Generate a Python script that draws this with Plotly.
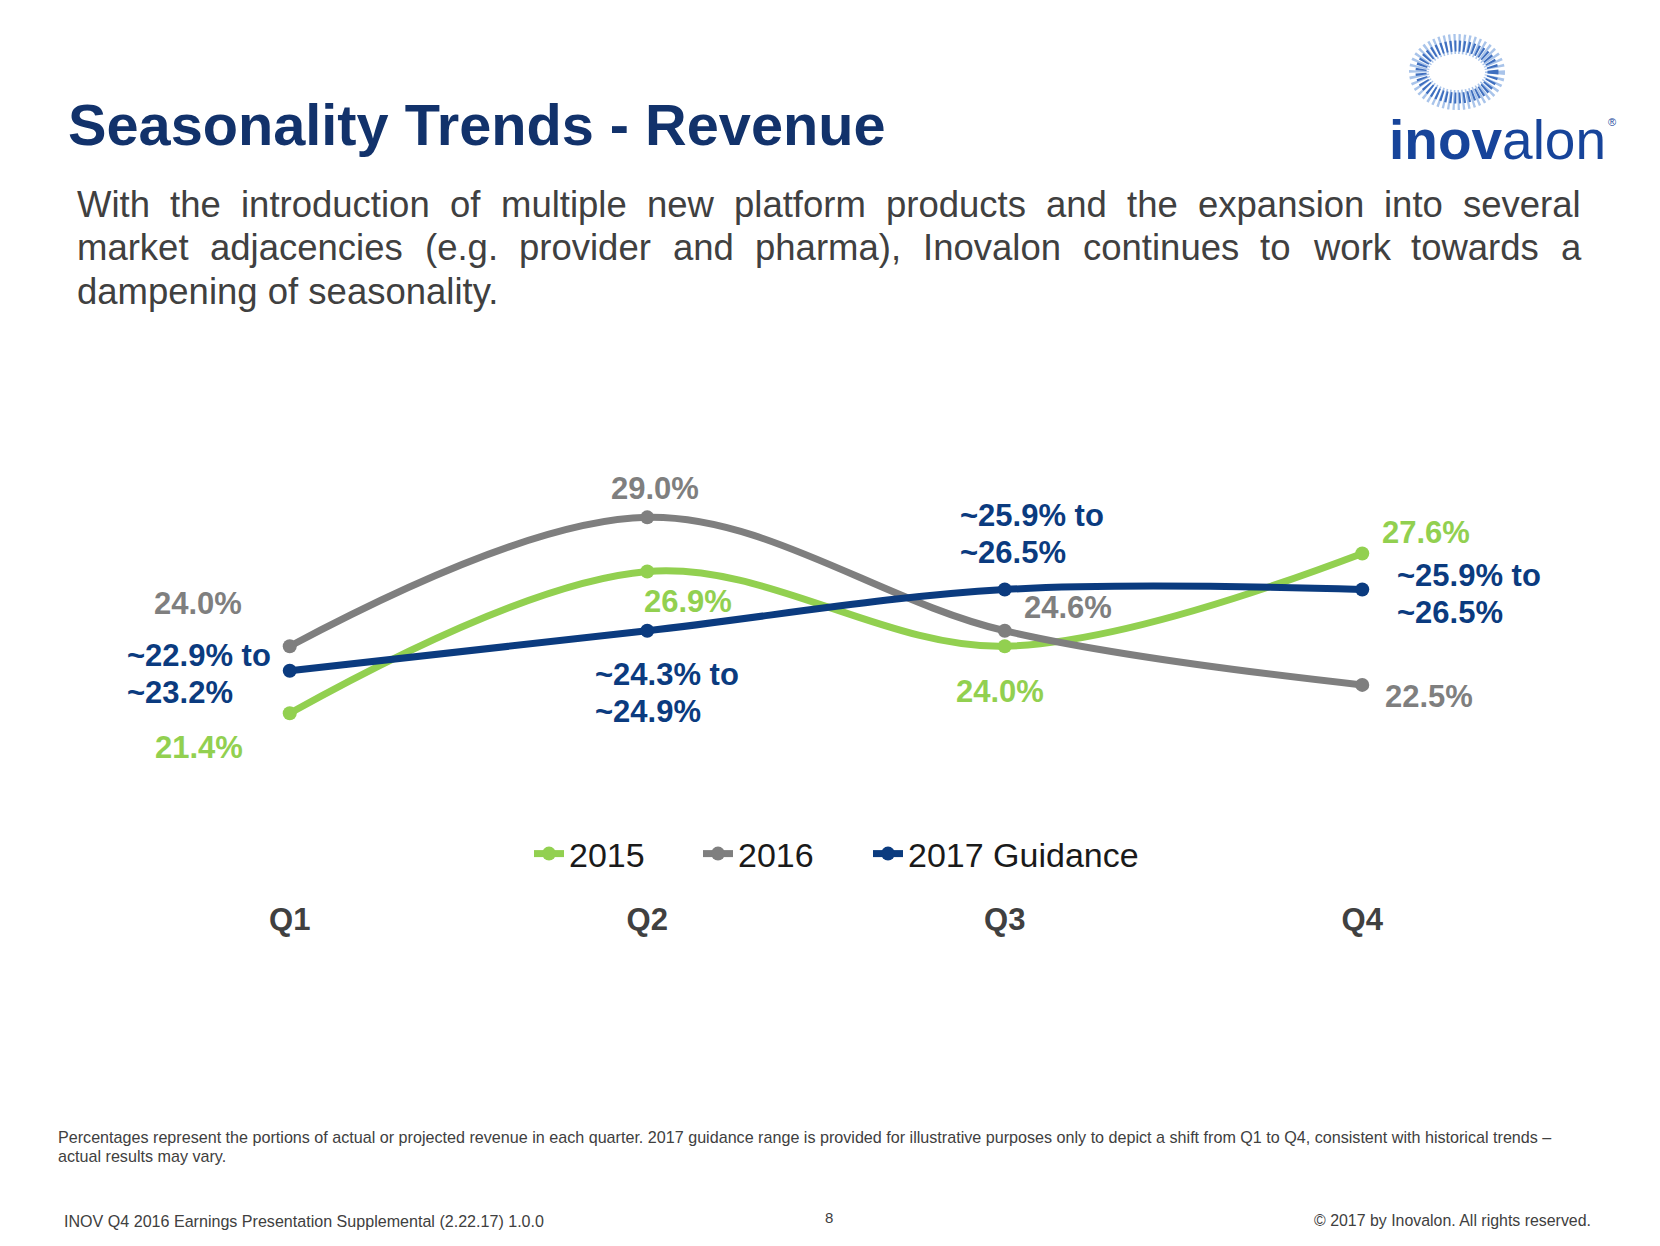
import plotly.graph_objects as go

W, H = 1660, 1246

# ---------------- data ----------------
quarters = ["Q1", "Q2", "Q3", "Q4"]
rev_2015 = [21.4, 26.9, 24.0, 27.6]
rev_2016 = [24.0, 29.0, 24.6, 22.5]
guid_2017_low = [22.9, 24.3, 25.9, 25.9]
guid_2017_high = [23.2, 24.9, 26.5, 26.5]
guid_2017_mid = [(a + b) / 2 for a, b in zip(guid_2017_low, guid_2017_high)]

series_names = ["2015", "2016", "2017 Guidance"]

title_text = "Seasonality Trends - Revenue"
subtitle_lines = [
    "With the introduction of multiple new platform products and the expansion into several",
    "market adjacencies (e.g. provider and pharma), Inovalon continues to work towards a",
    "dampening of seasonality.",
]
footnote_lines = [
    "Percentages represent the portions of actual or projected revenue in each quarter. 2017 guidance range is provided for illustrative purposes only to depict a shift from Q1 to Q4, consistent with historical trends \u2013",
    "actual results may vary.",
]
footer_left = "INOV Q4 2016 Earnings Presentation Supplemental (2.22.17) 1.0.0"
footer_mid = "8"
footer_right = "\u00a9 2017 by Inovalon. All rights reserved."

# ---------------- styles ----------------
GREEN = "#92D050"
GRAY = "#7F7F7F"
NAVY = "#0B3B7F"
TITLE_NAVY = "#12326B"
TEXT_GRAY = "#404040"
FONT = "Liberation Sans, Arial, sans-serif"

# Arial / Liberation Sans advance widths (1/1000 em)
CW = {c: 556 for c in "0123456789"}
CW.update(dict(zip("abcdefghijklmnopqrstuvwxyz",
                   [556, 556, 500, 556, 556, 278, 556, 556, 222, 222, 500, 222, 833,
                    556, 556, 556, 556, 333, 500, 278, 556, 500, 722, 500, 500, 500])))
CW.update(dict(zip("ABCDEFGHIJKLMNOPQRSTUVWXYZ",
                   [667, 667, 722, 722, 667, 611, 778, 722, 278, 500, 667, 556, 833,
                    722, 778, 667, 778, 722, 667, 611, 722, 667, 944, 667, 667, 611])))
CW.update({" ": 278, ".": 278, ",": 278, "(": 333, ")": 333, "-": 333,
           "\u2013": 556, "\u00a9": 737, "~": 584, "%": 889})


def text_w(s, size):
    return sum(CW.get(c, 556) for c in s) / 1000.0 * size


def px(x):
    return x / W


def py(y):
    return 1 - y / H


# plot-area placement (pixels)
PL, PR, PT, PB = 111, 1541, 440, 898
Y_RANGE = [14.234, 32.0]

fig = go.Figure()

traces = [
    (rev_2015, GREEN, "legend", series_names[0]),
    (rev_2016, GRAY, "legend2", series_names[1]),
    (guid_2017_mid, NAVY, "legend3", series_names[2]),
]
for vals, col, leg, name in traces:
    fig.add_trace(go.Scatter(
        x=quarters, y=vals, name=name, mode="lines+markers",
        line=dict(color=col, width=7, shape="spline", smoothing=1.0),
        marker=dict(color=col, size=14),
        legend=leg, hoverinfo="skip",
    ))

annotations = []

# ---- data labels (offsets relative to the data point, pixels) ----
lab_2015_off = [(-91, -34), (41, -30), (-5, -45), (64, 21)]
lab_2016_off = [(-92, 43), (8, 29), (63, 23), (67, -12)]
lab_2017_off = [(-165, -3), (-54, -62), (-47, 56), (33, -4)]
LAB_SIZE = 31
LINE_GAP = 37

for q, v, (dx, dy) in zip(quarters, rev_2015, lab_2015_off):
    annotations.append(dict(x=q, y=v, xref="x", yref="y", text=f"<b>{v:.1f}%</b>",
                            showarrow=False, xshift=dx, yshift=dy,
                            font=dict(family=FONT, size=LAB_SIZE, color=GREEN)))
for q, v, (dx, dy) in zip(quarters, rev_2016, lab_2016_off):
    annotations.append(dict(x=q, y=v, xref="x", yref="y", text=f"<b>{v:.1f}%</b>",
                            showarrow=False, xshift=dx, yshift=dy,
                            font=dict(family=FONT, size=LAB_SIZE, color=GRAY)))
for q, v, lo, hi, (dx, dy) in zip(quarters, guid_2017_mid, guid_2017_low, guid_2017_high, lab_2017_off):
    for txt, sh in [(f"<b>~{lo:.1f}% to</b>", LINE_GAP / 2), (f"<b>~{hi:.1f}%</b>", -LINE_GAP / 2)]:
        annotations.append(dict(x=q, y=v, xref="x", yref="y", text=txt,
                                showarrow=False, xshift=dx, yshift=dy + sh,
                                xanchor="left", align="left",
                                font=dict(family=FONT, size=LAB_SIZE, color=NAVY)))

# ---- title ----
annotations.append(dict(x=px(67), y=py(125), xref="paper", yref="paper", xanchor="left",
                        yanchor="middle", showarrow=False, text=f"<b>{title_text}</b>",
                        font=dict(family=FONT, size=57.7, color=TITLE_NAVY), borderpad=0))

# ---- justified subtitle ----
SUB_SIZE = 36.5
SUB_L, SUB_R = 77, 1581
sub_y = [204, 248, 291]
for i, (line, yy) in enumerate(zip(subtitle_lines, sub_y)):
    words = line.split(" ")
    last = i == len(subtitle_lines) - 1
    if last:
        annotations.append(dict(x=px(SUB_L), y=py(yy), xref="paper", yref="paper",
                                xanchor="left", yanchor="middle", showarrow=False, text=line,
                                font=dict(family=FONT, size=SUB_SIZE, color=TEXT_GRAY),
                                borderpad=0, borderwidth=0))
        continue
    total = sum(text_w(w, SUB_SIZE) for w in words)
    gap = (SUB_R - SUB_L - total) / (len(words) - 1)
    xx = SUB_L
    for w in words:
        annotations.append(dict(x=px(xx), y=py(yy), xref="paper", yref="paper",
                                xanchor="left", yanchor="middle", showarrow=False, text=w,
                                font=dict(family=FONT, size=SUB_SIZE, color=TEXT_GRAY),
                                borderpad=0, borderwidth=0))
        xx += text_w(w, SUB_SIZE) + gap

# ---- footnote ----
fn_size = (1554 - 58) / text_w(footnote_lines[0], 1)
for line, yy in zip(footnote_lines, [1137, 1156]):
    annotations.append(dict(x=px(58), y=py(yy), xref="paper", yref="paper", xanchor="left",
                            yanchor="middle", showarrow=False, text=line,
                            font=dict(family=FONT, size=fn_size, color=TEXT_GRAY),
                            borderpad=0, borderwidth=0))

fl_size = (544 - 64) / text_w(footer_left, 1)
annotations.append(dict(x=px(64), y=py(1221), xref="paper", yref="paper", xanchor="left",
                        yanchor="middle", showarrow=False, text=footer_left,
                        font=dict(family=FONT, size=fl_size, color=TEXT_GRAY),
                        borderpad=0, borderwidth=0))
annotations.append(dict(x=px(829), y=py(1217), xref="paper", yref="paper", xanchor="center",
                        yanchor="middle", showarrow=False, text=footer_mid,
                        font=dict(family=FONT, size=15, color=TEXT_GRAY),
                        borderpad=0, borderwidth=0))
fr_size = (1591 - 1313) / text_w(footer_right, 1)
annotations.append(dict(x=px(1591), y=py(1220), xref="paper", yref="paper", xanchor="right",
                        yanchor="middle", showarrow=False, text=footer_right,
                        font=dict(family=FONT, size=fr_size, color=TEXT_GRAY),
                        borderpad=0, borderwidth=0))

# ---- logo ----
LOGO_BLUE = "#17449A"
annotations.append(dict(x=px(1497), y=py(140), xref="paper", yref="paper", xanchor="center",
                        yanchor="middle", showarrow=False,
                        text="<b>inov</b>alon",
                        font=dict(family=FONT, size=55, color=LOGO_BLUE),
                        borderpad=0, borderwidth=0))
annotations.append(dict(x=px(1612), y=py(122), xref="paper", yref="paper", xanchor="center",
                        yanchor="middle", showarrow=False, text="\u00ae",
                        font=dict(family=FONT, size=11, color=LOGO_BLUE),
                        borderpad=0, borderwidth=0))

shapes = []
cx, cy = 1457, 72
for rx, ry, col, wdt in [(38, 28, "#A9C4EA", 20), (36, 26, "#3F6FBF", 11)]:
    shapes.append(dict(type="circle", xref="paper", yref="paper",
                       x0=px(cx - rx), x1=px(cx + rx), y0=py(cy + ry), y1=py(cy - ry),
                       line=dict(color=col, width=wdt, dash="2px,2.5px"),
                       fillcolor="rgba(0,0,0,0)"))

legend_common = dict(orientation="h", yanchor="middle", xanchor="left",
                     bgcolor="rgba(0,0,0,0)", borderwidth=0,
                     font=dict(family=FONT, size=34, color="#1A1A1A"))
LEG_Y = py(854)

fig.update_layout(
    width=W, height=H,
    margin=dict(l=0, r=0, t=0, b=0),
    paper_bgcolor="white", plot_bgcolor="white",
    template="none",
    showlegend=True,
    legend=dict(x=px(529), y=LEG_Y, **legend_common),
    legend2=dict(x=px(698), y=LEG_Y, **legend_common),
    legend3=dict(x=px(868), y=LEG_Y, **legend_common),
    xaxis=dict(domain=[px(PL), px(PR)], range=[-0.5, 3.5], type="category",
               tickvals=quarters, ticktext=[f"<b>{q}</b>" for q in quarters],
               tickfont=dict(family=FONT, size=31, color=TEXT_GRAY),
               showgrid=False, zeroline=False, showline=False, ticks="",
               automargin=False, fixedrange=True),
    yaxis=dict(domain=[py(PB), py(PT)], range=Y_RANGE, visible=False,
               showgrid=False, zeroline=False, automargin=False, fixedrange=True),
    annotations=annotations,
    shapes=shapes,
)

fig.write_html("out.html", config={"displayModeBar": False})
